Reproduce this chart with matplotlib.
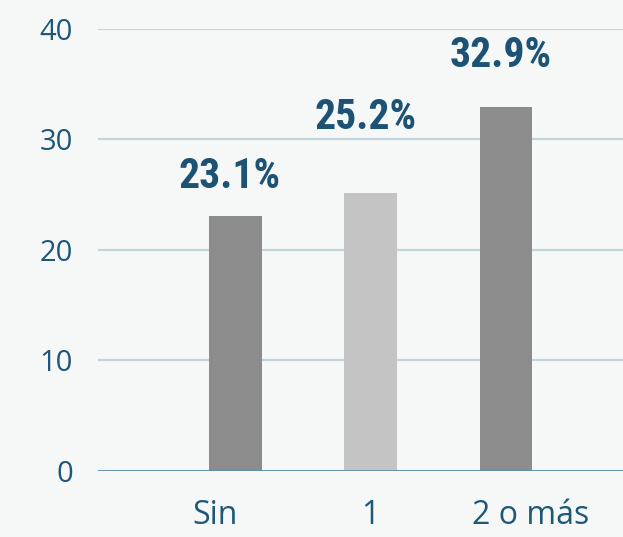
import matplotlib.pyplot as plt
import matplotlib.transforms as mtransforms
import numpy as np

categorias = ['Sin', '1', '2 o más']
valores = [23.1, 25.2, 32.9]
etiquetas = ['23.1%', '25.2%', '32.9%']
colores = ['#8c8c8c', '#c4c4c4', '#8c8c8c']

fondo = '#f6f8f8'
azul = '#1c5273'

fig = plt.figure(figsize=(6.23, 5.37), dpi=100, facecolor=fondo)
ax = fig.add_axes([0.157, 0.123, 0.843, 0.823], facecolor=fondo)

x = np.arange(len(categorias))
bars = ax.bar(x, valores, width=0.39, color=colores, zorder=3)

# separacion del texto sobre cada barra (puntos)
desp = [20, 46, 29]
for i, b in enumerate(bars):
    ax.annotate(etiquetas[i], (b.get_x() + b.get_width() / 2, b.get_height()),
                xytext=(-4, desp[i]), textcoords='offset points',
                ha='center', va='baseline', color=azul, fontsize=30,
                fontweight='bold', fontstretch='condensed',
                family=['Roboto Condensed', 'DejaVu Sans'])

ax.set_ylim(0, 40)
ax.set_xlim(-1.017, 2.865)
ax.set_yticks([0, 10, 20, 30, 40])
ax.yaxis.grid(True, color='#c3d4dc', linewidth=1.6, zorder=0)
ax.set_axisbelow(True)
for s in ax.spines.values():
    s.set_visible(False)
ax.axhline(0, color='#5f8ea6', linewidth=2, zorder=4)

ax.tick_params(axis='both', length=0, labelcolor='#1d5878')
ax.tick_params(axis='y', pad=18, labelsize=21)
ax.tick_params(axis='x', pad=20, labelsize=23)
ax.set_xticks(x)
ax.set_xticklabels(categorias)
for lab in ax.get_yticklabels() + ax.get_xticklabels():
    lab.set_family('Open Sans')

# los nombres no quedan centrados bajo las barras
corr = [-20, 0, 25]
for lab, dx in zip(ax.get_xticklabels(), corr):
    lab.set_transform(lab.get_transform() +
                      mtransforms.ScaledTranslation(dx / 100, 0, fig.dpi_scale_trans))

plt.savefig('out.png', dpi=100, facecolor=fondo)
